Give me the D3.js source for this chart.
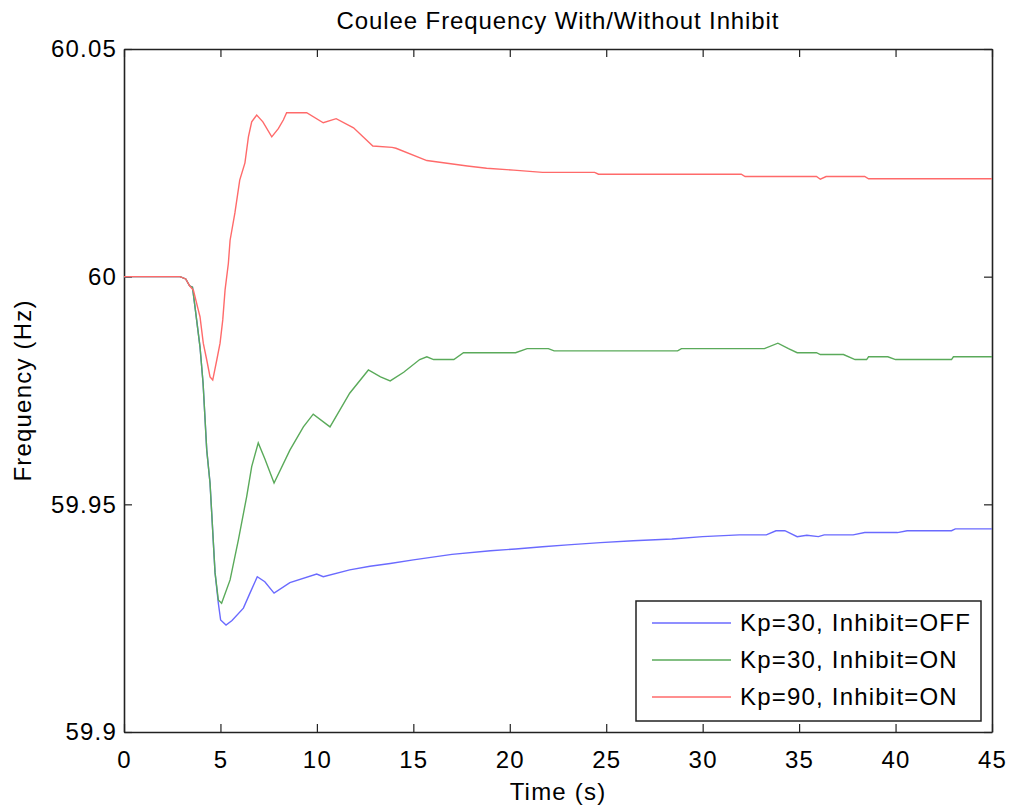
<!DOCTYPE html>
<html>
<head>
<meta charset="utf-8">
<script src="https://cdn.jsdelivr.net/npm/d3@7"></script>
<style>
  body { margin: 0; background: #fff; }
  text { font-family: "Liberation Sans", Arial, sans-serif; fill: #000; }
</style>
</head>
<body>
<script>
// series values: [time (s), frequency (Hz)]
const blueSeries = [
  [0, 60], [2.9, 60], [3.2, 59.9995], [3.4, 59.998], [3.55, 59.9977], [3.7, 59.9927],
  [3.94, 59.9846], [4.1, 59.9766], [4.29, 59.9619], [4.46, 59.9547], [4.72, 59.935],
  [4.89, 59.9283], [5.01, 59.9246], [5.29, 59.9235], [5.6, 59.9245], [6.19, 59.9272],
  [6.53, 59.9305], [6.91, 59.9341], [7.3, 59.933], [7.78, 59.9305], [8.6, 59.9328],
  [9.99, 59.9347], [10.33, 59.9341], [11.7, 59.9356], [12.75, 59.9364], [13.8, 59.937],
  [15, 59.9378], [17, 59.939], [19, 59.9398], [20.3, 59.9402], [21.7, 59.9407],
  [23.0, 59.9411], [24.7, 59.9416], [26.4, 59.942], [28.4, 59.9424], [30.0, 59.9429],
  [31.9, 59.9433], [33.3, 59.9433], [33.8, 59.9442], [34.26, 59.9442], [34.9, 59.9429],
  [35.4, 59.9432], [36.0, 59.9429], [36.3, 59.9433], [37.8, 59.9433], [38.4, 59.9438],
  [40.1, 59.9438], [40.6, 59.9442], [42.9, 59.9442], [43.1, 59.9446], [45, 59.9446]
];

const greenSeries = [
  [0, 60], [2.9, 60], [3.2, 59.9995], [3.4, 59.998], [3.55, 59.9977], [3.7, 59.9927],
  [3.94, 59.9846], [4.1, 59.9766], [4.29, 59.9619], [4.46, 59.9547], [4.72, 59.935],
  [4.89, 59.929], [5.06, 59.9283], [5.5, 59.9334], [5.93, 59.9422], [6.36, 59.9517],
  [6.62, 59.9583], [6.96, 59.9635], [7.3, 59.96], [7.78, 59.9547], [8.6, 59.9619],
  [9.3, 59.967], [9.81, 59.9698], [10.68, 59.967], [11.7, 59.9744], [12.67, 59.9795],
  [13.3, 59.978], [13.8, 59.9771], [14.5, 59.979], [15.33, 59.9818], [15.7, 59.9824],
  [16.05, 59.9818], [17.1, 59.9818], [17.6, 59.9833], [20.3, 59.9833], [20.9, 59.9842],
  [22.0, 59.9842], [22.3, 59.9837], [28.7, 59.9837], [28.9, 59.9842], [33.2, 59.9842],
  [33.9, 59.9854], [34.45, 59.9842], [34.9, 59.9833], [35.9, 59.9833], [36.1, 59.9829],
  [37.3, 59.9829], [37.9, 59.9818], [38.5, 59.9818], [38.6, 59.9824], [39.6, 59.9824],
  [40, 59.9818], [42.9, 59.9818], [43, 59.9824], [45, 59.9824]
];

const redSeries = [
  [0, 60], [2.9, 60], [3.2, 59.9995], [3.4, 59.998], [3.6, 59.997], [3.85, 59.9927],
  [3.94, 59.9912], [4.11, 59.9854], [4.29, 59.9817], [4.46, 59.978], [4.6, 59.9773],
  [4.81, 59.9817], [4.98, 59.9854], [5.12, 59.9905], [5.24, 59.9971], [5.41, 60.0029],
  [5.5, 60.008], [5.75, 60.014], [6.0, 60.0212], [6.27, 60.025], [6.45, 60.0307],
  [6.62, 60.034], [6.88, 60.0355], [7.2, 60.034], [7.66, 60.0307], [8.0, 60.0325],
  [8.26, 60.0344], [8.43, 60.036], [9.47, 60.036], [10.33, 60.0338], [11.0, 60.0347],
  [11.9, 60.0327], [12.9, 60.0287], [13.9, 60.0284], [14.1, 60.0282], [15.7, 60.0255],
  [17.8, 60.0243], [18.8, 60.0238], [20.2, 60.0234], [21.7, 60.0229], [24.4, 60.0229],
  [24.6, 60.0225], [32.0, 60.0225], [32.2, 60.022], [35.9, 60.022], [36.1, 60.0214],
  [36.4, 60.022], [38.4, 60.022], [38.6, 60.0215], [45, 60.0215]
];

const seriesNames = ["Kp=30, Inhibit=OFF", "Kp=30, Inhibit=ON", "Kp=90, Inhibit=ON"];
const seriesColors = ["#6a6aff", "#5aaa5a", "#ff6a6a"];
const xTicks = [0, 5, 10, 15, 20, 25, 30, 35, 40, 45];
const yTicks = [59.9, 59.95, 60, 60.05];

const width = 1009;
const height = 809;
const margin = { top: 49, right: 17, bottom: 77, left: 124 };
const fontSize = 24;
const spacing = 1.2;

const svg = d3.select("body")
  .append("svg")
  .attr("width", width)
  .attr("height", height);

const x = d3.scaleLinear().domain([0, 45]).range([margin.left, width - margin.right]);
const y = d3.scaleLinear().domain([59.9, 60.05]).range([height - margin.bottom, margin.top]);

const tickLen = 8;

// bottom + left axes with inward ticks (matlab style)
svg.append("g")
  .attr("transform", `translate(0,${y.range()[0]})`)
  .call(d3.axisBottom(x).tickValues(xTicks).tickSizeInner(-tickLen).tickSizeOuter(0).tickPadding(19).tickFormat(d3.format("d")));
svg.append("g")
  .attr("transform", `translate(${x.range()[0]},0)`)
  .call(d3.axisLeft(y).tickValues(yTicks).tickSizeInner(-tickLen).tickSizeOuter(0).tickPadding(7).tickFormat(d => String(+d.toFixed(2))));
// top + right ticks, no labels
svg.append("g")
  .attr("transform", `translate(0,${y.range()[1]})`)
  .call(d3.axisTop(x).tickValues(xTicks).tickSizeInner(-tickLen).tickSizeOuter(0).tickFormat(""));
svg.append("g")
  .attr("transform", `translate(${x.range()[1]},0)`)
  .call(d3.axisRight(y).tickValues(yTicks).tickSizeInner(-tickLen).tickSizeOuter(0).tickFormat(""));

svg.selectAll(".domain").attr("stroke", "#222").attr("stroke-width", 1.6);
svg.selectAll(".tick line").attr("stroke", "#222").attr("stroke-width", 1.2);
svg.selectAll(".tick text")
  .attr("font-size", fontSize)
  .attr("letter-spacing", spacing)
  .attr("font-family", "Liberation Sans, Arial, sans-serif");

const line = d3.line()
  .x(d => x(d[0]))
  .y(d => y(d[1]));

const plot = svg.append("g");
[blueSeries, greenSeries, redSeries].forEach((s, i) => {
  plot.append("path")
    .datum(s)
    .attr("fill", "none")
    .attr("stroke", seriesColors[i])
    .attr("stroke-width", 1.4)
    .attr("d", line);
});

// title + axis labels
svg.append("text")
  .attr("x", (x.range()[0] + x.range()[1]) / 2)
  .attr("y", 29)
  .attr("text-anchor", "middle")
  .attr("font-size", fontSize)
  .attr("letter-spacing", 0.9)
  .text("Coulee Frequency With/Without Inhibit");

svg.append("text")
  .attr("x", (x.range()[0] + x.range()[1]) / 2)
  .attr("y", 800)
  .attr("text-anchor", "middle")
  .attr("font-size", fontSize)
  .attr("letter-spacing", spacing)
  .text("Time (s)");

svg.append("text")
  .attr("transform", `translate(31,${(y.range()[0] + y.range()[1]) / 2}) rotate(-90)`)
  .attr("text-anchor", "middle")
  .attr("font-size", fontSize)
  .attr("letter-spacing", spacing)
  .text("Frequency (Hz)");

// legend
const legend = svg.append("g").attr("transform", "translate(636,601)");
legend.append("rect")
  .attr("width", 345)
  .attr("height", 120)
  .attr("fill", "#fff")
  .attr("stroke", "#222")
  .attr("stroke-width", 1.5);

seriesNames.forEach((name, i) => {
  const ly = 22 + i * 37;
  legend.append("line")
    .attr("x1", 16).attr("x2", 95)
    .attr("y1", ly).attr("y2", ly)
    .attr("stroke", seriesColors[i])
    .attr("stroke-width", 1.4);
  legend.append("text")
    .attr("x", 104)
    .attr("y", ly + 8)
    .attr("font-size", fontSize)
    .attr("letter-spacing", spacing)
    .text(name);
});
</script>
</body>
</html>
